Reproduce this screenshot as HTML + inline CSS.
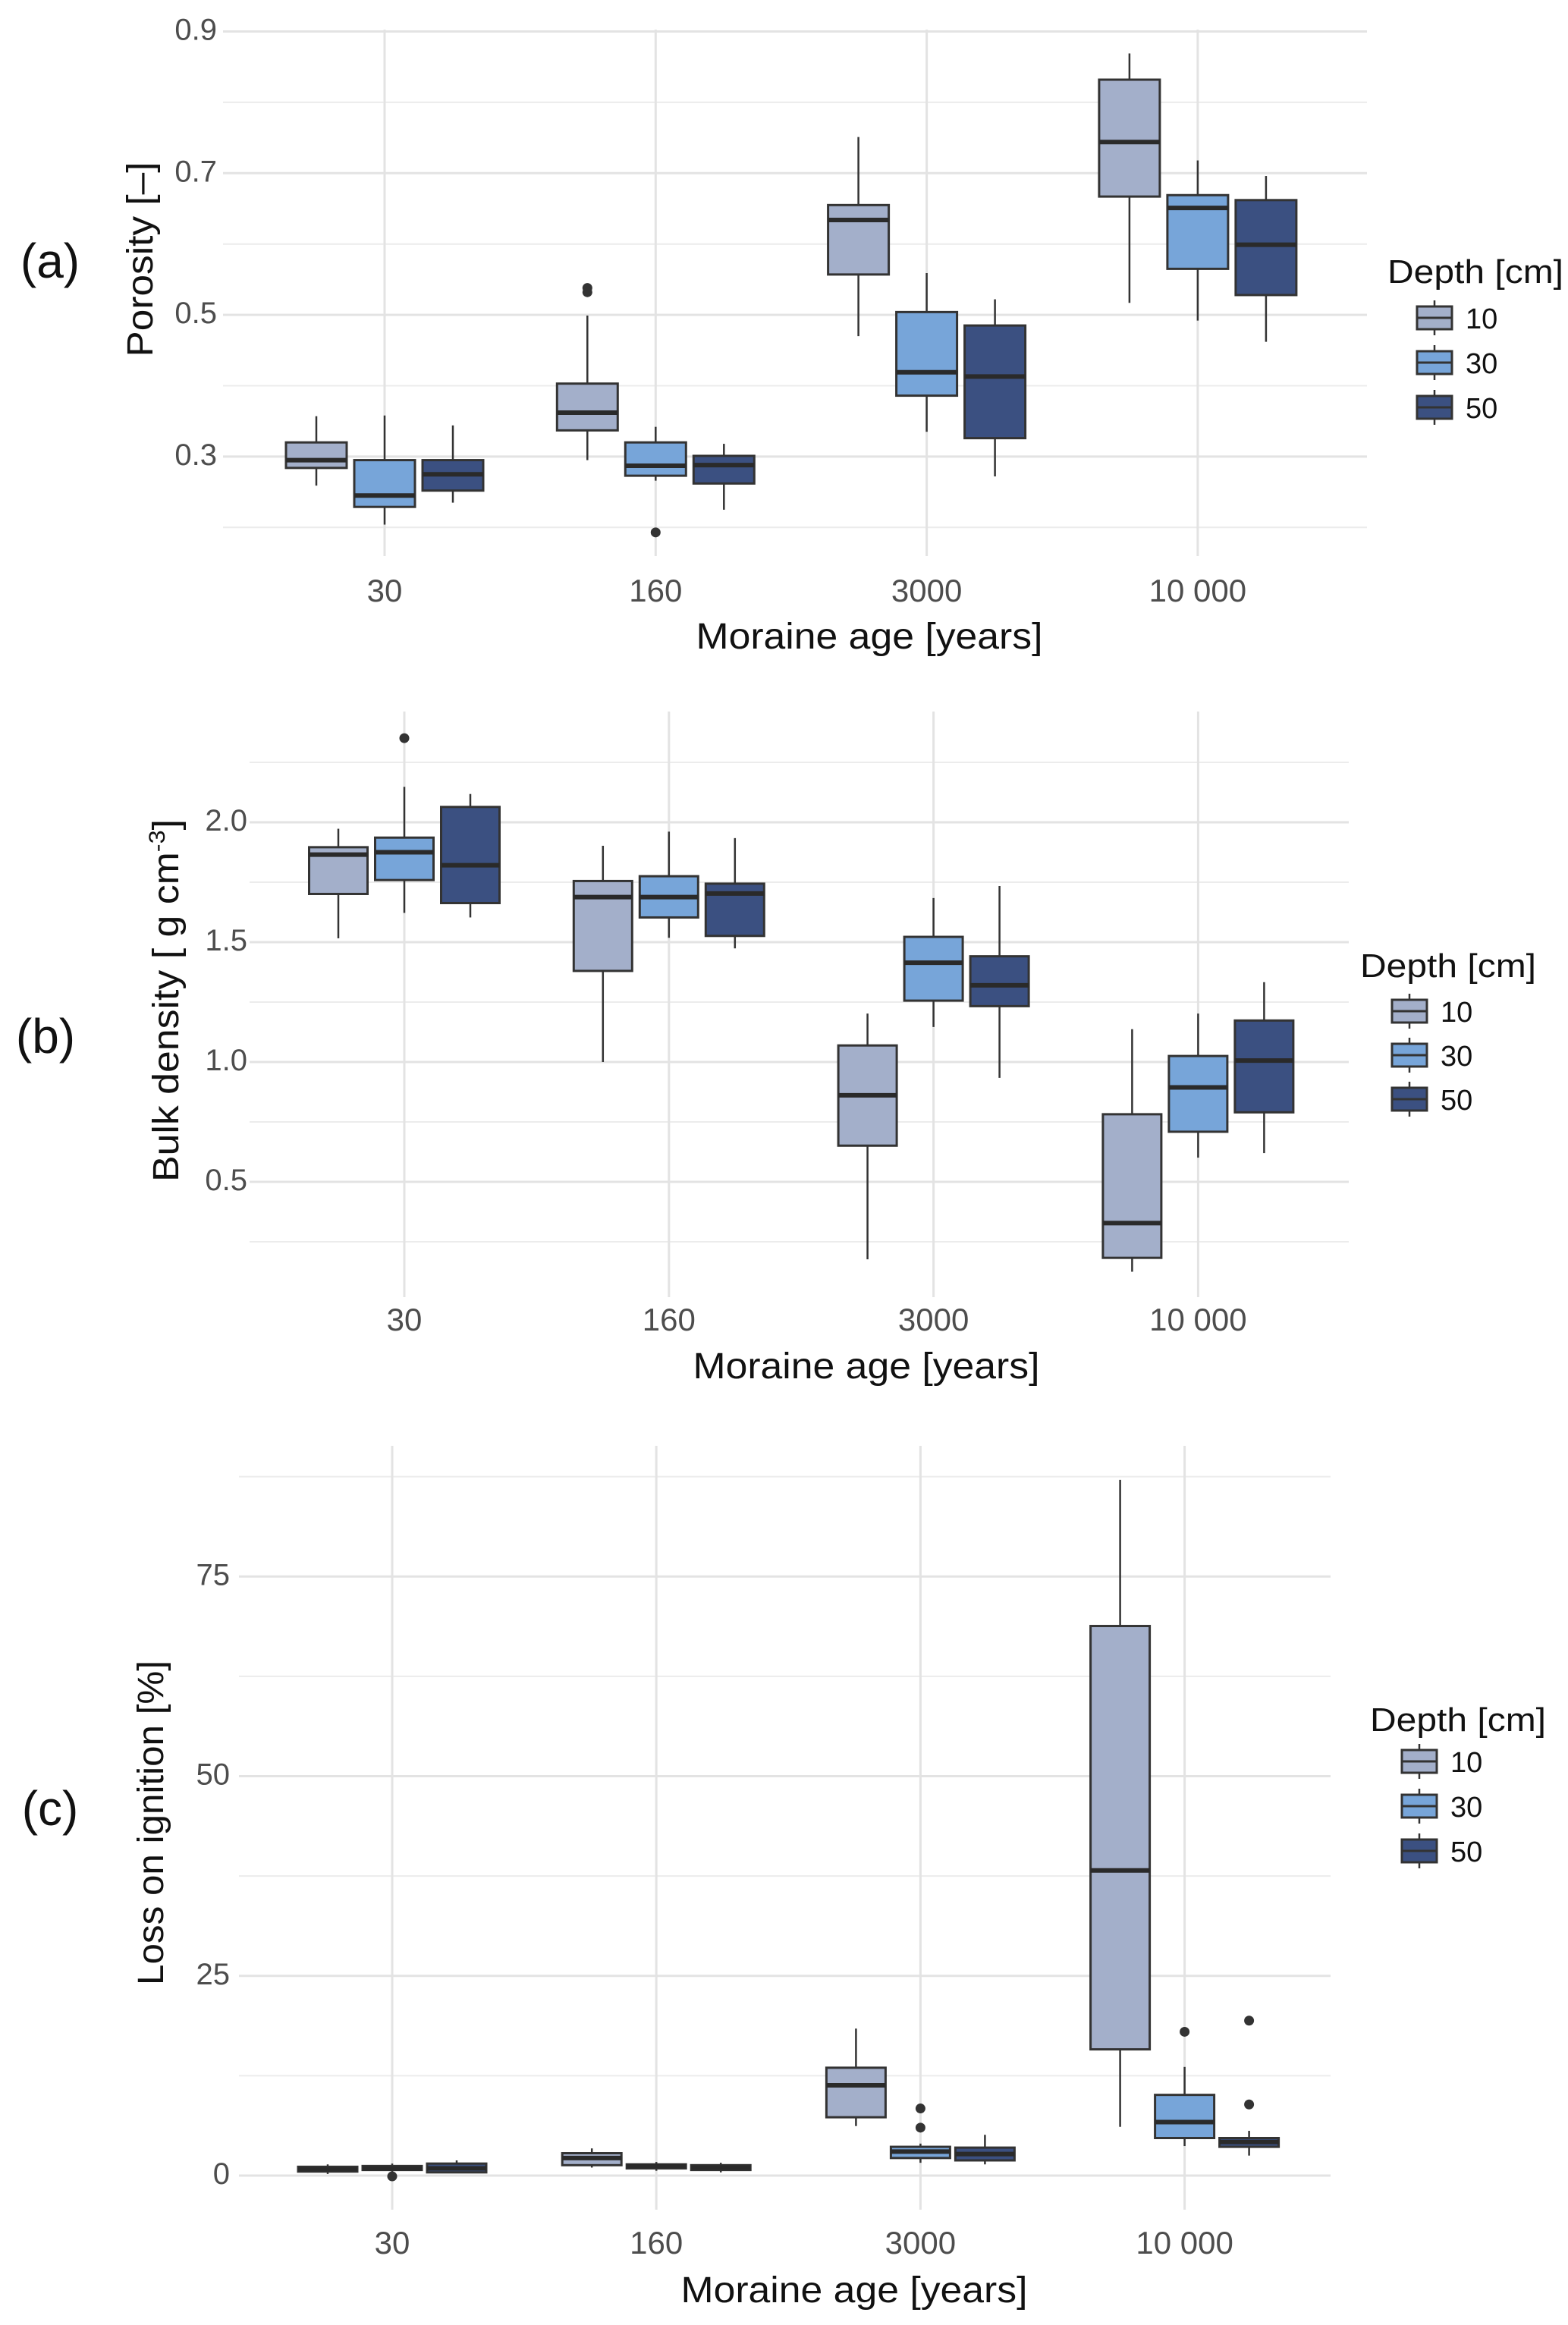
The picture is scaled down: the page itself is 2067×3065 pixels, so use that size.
<!DOCTYPE html>
<html><head><meta charset="utf-8">
<style>
html,body{margin:0;padding:0;background:#fff;}
svg{display:block;font-family:"Liberation Sans",sans-serif;}
</style></head>
<body>
<svg id="fig" xmlns="http://www.w3.org/2000/svg" width="2067" height="3065" viewBox="0 0 2067 3065"></svg>
<script>
// ---- data: each entry [lowerWhisker, q1, median, q3, upperWhisker] per moraine age ----
const categories = ["30", "160", "3000", "10 000"];
const depths = ["10", "30", "50"];

const porosity10 = [[0.259,0.284,0.295,0.320,0.357],[0.295,0.337,0.362,0.403,0.499],[0.470,0.557,0.634,0.655,0.751],[0.517,0.667,0.744,0.832,0.869]];
const porosity30 = [[0.204,0.229,0.245,0.295,0.358],[0.266,0.273,0.287,0.320,0.342],[0.335,0.386,0.419,0.504,0.559],[0.492,0.565,0.651,0.669,0.718]];
const porosity50 = [[0.235,0.252,0.275,0.295,0.344],[0.225,0.262,0.288,0.301,0.318],[0.272,0.326,0.413,0.485,0.522],[0.462,0.528,0.599,0.662,0.696]];
const porosityOutliers = [[1,0,0.538],[1,0,0.532],[1,1,0.193]]; // [category, depth, value]

const bulk10 = [[1.516,1.701,1.865,1.896,1.973],[1.000,1.380,1.688,1.755,1.902],[0.177,0.651,0.861,1.069,1.202],[0.125,0.183,0.328,0.782,1.137]];
const bulk30 = [[1.622,1.759,1.875,1.936,2.148],[1.518,1.603,1.688,1.775,1.961],[1.146,1.256,1.414,1.522,1.684],[0.601,0.709,0.894,1.025,1.202]];
const bulk50 = [[1.603,1.663,1.821,2.064,2.118],[1.474,1.526,1.703,1.744,1.934],[0.934,1.233,1.320,1.441,1.734],[0.620,0.790,1.006,1.173,1.333]];
const bulkOutliers = [[0,1,2.351]];

const loi10 = [[0.2,0.5,0.8,1.1,1.4],[1.0,1.3,2.2,2.8,3.4],[6.2,7.3,11.3,13.5,18.4],[6.1,15.8,38.2,68.8,87.1]];
const loi30 = [[0.5,0.7,0.9,1.2,1.5],[0.6,0.9,1.2,1.4,1.7],[1.6,2.2,3.0,3.6,4.0],[3.7,4.7,6.7,10.1,13.6]];
const loi50 = [[0.3,0.4,0.9,1.5,1.9],[0.4,0.7,1.0,1.3,1.6],[1.4,1.9,2.7,3.5,5.1],[2.5,3.6,4.2,4.7,5.6]];
const loiOutliers = [[0,1,-0.1],[2,1,8.4],[2,1,6.0],[3,1,18.0],[3,2,19.4],[3,2,8.9]];

const porosityTicks = [0.3,0.5,0.7,0.9];
const porosityTickLabels = ["0.3","0.5","0.7","0.9"];
const porosityMinor = [0.2,0.4,0.6,0.8];
const bulkTicks = [0.5,1.0,1.5,2.0];
const bulkTickLabels = ["0.5","1.0","1.5","2.0"];
const bulkMinor = [0.25,0.75,1.25,1.75,2.25];
const loiTicks = [0,25,50,75];
const loiTickLabels = ["0","25","50","75"];
const loiMinor = [12.5,37.5,62.5,87.5];

const fills = ["#a3afca","#77a5d9","#3b5081"];
const NS = "http://www.w3.org/2000/svg";
const svg = document.getElementById("fig");

function el(tag, attrs, parent, text){
  const e = document.createElementNS(NS, tag);
  for (const k in attrs) e.setAttribute(k, attrs[k]);
  if (text !== undefined) e.textContent = text;
  (parent||svg).appendChild(e);
  return e;
}

function panel(cfg){
  const g = el("g", {});
  
  
  const y = v => cfg.y0 - (v - cfg.v0) * cfg.pxPerUnit;
  const x = i => cfg.cx0 + i * cfg.dx;
  cfg.minor.forEach(v => {
    const l = el("line", {x1:cfg.left, x2:cfg.right, y1:y(v), y2:y(v), stroke:"#ececec", "stroke-width":2}, g);
    
    
  });
  cfg.ticks.forEach((v, i) => {
    const l = el("line", {x1:cfg.left, x2:cfg.right, y1:y(v), y2:y(v), stroke:"#e3e3e3", "stroke-width":3}, g);
    
    
    const t = el("text", {x:cfg.tickX, y:y(v)+11, "text-anchor":"end", "font-size":40, fill:"#4d4d4d"}, g, cfg.tickLabels[i]);
    
    
  });
  categories.forEach((c, i) => {
    const l = el("line", {x1:x(i), x2:x(i), y1:cfg.top, y2:cfg.bottom, stroke:"#e3e3e3", "stroke-width":3}, g);
    
    
    const t = el("text", {x:x(i), y:cfg.catY, "text-anchor":"middle", "font-size":42, fill:"#4d4d4d"}, g, c);
    
    
  });
  cfg.series.forEach((ser, d) => {
    ser.forEach((s, i) => {
      const cx = x(i) + (d - 1) * cfg.off;
      const w = cfg.bw;
      const bg = el("g", {}, g);
      
      
      el("line", {x1:cx, x2:cx, y1:y(s[4]), y2:y(s[3]), stroke:"#333", "stroke-width":2.5}, bg);
      el("line", {x1:cx, x2:cx, y1:y(s[1]), y2:y(s[0]), stroke:"#333", "stroke-width":2.5}, bg);
      el("rect", {x:cx-w/2, y:y(s[3]), width:w, height:Math.max(y(s[1])-y(s[3]),1), fill:fills[d], stroke:"#333", "stroke-width":3}, bg);
      el("line", {x1:cx-w/2, x2:cx+w/2, y1:y(s[2]), y2:y(s[2]), stroke:"#2a2a2a", "stroke-width":6}, bg);
    });
  });
  cfg.outliers.forEach(o => {
    const c = el("circle", {cx:x(o[0]) + (o[1]-1)*cfg.off, cy:y(o[2]), r:6.5, fill:"#333"}, g);
    
    
  });
  const xt = el("text", {x:cfg.xTitleX, y:cfg.xTitleY, "text-anchor":"middle", "font-size":48, fill:"#111", textLength:457, lengthAdjust:"spacingAndGlyphs"}, g, "Moraine age [years]");
  
  
  const yt = el("text", {x:0, y:0, "text-anchor":"middle", "font-size":48, fill:"#111", transform:`translate(${cfg.yTitleX},${cfg.yTitleY}) rotate(-90)`, textLength:cfg.yTitleLen, lengthAdjust:"spacingAndGlyphs"}, g);
  
  
  if (cfg.sup) {
    yt.appendChild(document.createTextNode(cfg.yTitle));
    el("tspan", {"font-size":30, dy:-18}, yt, "-3");
    el("tspan", {dy:18}, yt, "]");
  } else yt.textContent = cfg.yTitle;
  const pl = el("text", {x:cfg.labX, y:cfg.labY, "text-anchor":"middle", "font-size":64, fill:"#111"}, g, cfg.label);
  
  
  const lg = el("g", {}, g);
  
  
  el("text", {x:cfg.legX, y:cfg.legY, "font-size":44, fill:"#111", textLength:232, lengthAdjust:"spacingAndGlyphs"}, lg, "Depth [cm]");
  depths.forEach((dl, d) => {
    const ky = cfg.legKeyY + d * cfg.legStep;
    const kx = cfg.legKeyX;
    const e = el("g", {}, lg);
    
    
    el("line", {x1:kx+23, x2:kx+23, y1:ky-8, y2:ky+38, stroke:"#333", "stroke-width":2.5}, e);
    el("rect", {x:kx, y:ky, width:46, height:30, fill:fills[d], stroke:"#333", "stroke-width":3}, e);
    el("line", {x1:kx, x2:kx+46, y1:ky+15, y2:ky+15, stroke:"#333", "stroke-width":3}, e);
    el("text", {x:kx+64, y:ky+29, "font-size":38, fill:"#111"}, e, dl);
  });
}

panel({name:"panel-a-porosity", label:"(a)", series:[porosity10,porosity30,porosity50], outliers:porosityOutliers,
  ticks:porosityTicks, tickLabels:porosityTickLabels, minor:porosityMinor,
  v0:0.9, y0:41.5, pxPerUnit:934, left:294, right:1802, top:39, bottom:733,
  cx0:507, dx:357.3, off:90, bw:80, tickX:286, catY:793,
  xTitleX:1146, xTitleY:855, yTitle:"Porosity [–]", yTitleX:201, yTitleY:342, yTitleLen:257,
  labX:66, labY:366, legX:1829, legY:373, legKeyX:1868, legKeyY:404, legStep:59});

panel({name:"panel-b-bulk-density", label:"(b)", series:[bulk10,bulk30,bulk50], outliers:bulkOutliers,
  ticks:bulkTicks, tickLabels:bulkTickLabels, minor:bulkMinor,
  v0:2.0, y0:1084, pxPerUnit:316, left:329, right:1778, top:938, bottom:1710,
  cx0:533, dx:348.8, off:87, bw:77, tickX:326, catY:1754,
  xTitleX:1142, xTitleY:1817, yTitle:"Bulk density [ g cm", sup:true, yTitleX:235, yTitleY:1319, yTitleLen:478,
  labX:60, labY:1388, legX:1793, legY:1288, legKeyX:1835, legKeyY:1318, legStep:58});

panel({name:"panel-c-loss-on-ignition", label:"(c)", series:[loi10,loi30,loi50], outliers:loiOutliers,
  ticks:loiTicks, tickLabels:loiTickLabels, minor:loiMinor,
  v0:0, y0:2868, pxPerUnit:10.53, left:315, right:1754, top:1906, bottom:2913,
  cx0:517, dx:348.2, off:85, bw:78, tickX:303, catY:2971,
  xTitleX:1126, xTitleY:3035, yTitle:"Loss on ignition [%]", yTitleX:215, yTitleY:2403, yTitleLen:428,
  labX:66, labY:2406, legX:1806, legY:2282, legKeyX:1848, legKeyY:2307, legStep:59});
</script>
</body></html>
